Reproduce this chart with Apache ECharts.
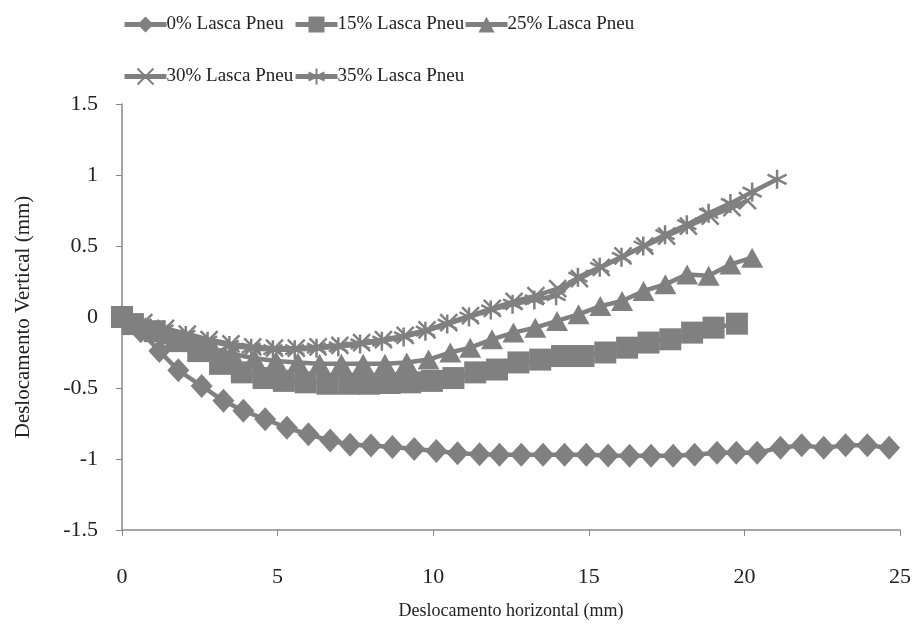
<!DOCTYPE html>
<html>
<head>
<meta charset="utf-8">
<script src="https://cdn.jsdelivr.net/npm/echarts@6/dist/echarts.min.js"></script>
<style>
html,body{margin:0;padding:0;background:#fff;}
#c{width:922px;height:628px;}
</style>
</head>
<body>
<div id="c"></div>
<script>
// ---- data ----
const seriesNames = ['0% Lasca Pneu', '15% Lasca Pneu', '25% Lasca Pneu', '30% Lasca Pneu', '35% Lasca Pneu'];

const x0 = [0, 0.6, 1.2, 1.81, 2.56, 3.26, 3.9, 4.6, 5.3, 5.99, 6.69, 7.33, 8.0, 8.69, 9.39, 10.1, 10.78, 11.49, 12.13, 12.83, 13.53, 14.22, 14.92, 15.62, 16.31, 17.0, 17.71, 18.4, 19.12, 19.74, 20.41, 21.16, 21.84, 22.55, 23.25, 23.95, 24.65];
const y0 = [0, -0.1, -0.24, -0.375, -0.486, -0.59, -0.66, -0.72, -0.78, -0.826, -0.87, -0.9, -0.905, -0.915, -0.93, -0.944, -0.96, -0.967, -0.97, -0.97, -0.97, -0.97, -0.97, -0.975, -0.977, -0.977, -0.977, -0.97, -0.956, -0.956, -0.956, -0.92, -0.904, -0.92, -0.904, -0.904, -0.92];

const x15 = [0, 0.35, 1.05, 1.75, 2.45, 3.15, 3.85, 4.55, 5.2, 5.9, 6.6, 7.3, 7.95, 8.6, 9.26, 9.96, 10.65, 11.35, 12.05, 12.74, 13.44, 14.14, 14.83, 15.53, 16.23, 16.92, 17.62, 18.32, 19.01, 19.76];
const y15 = [0, -0.05, -0.1, -0.17, -0.24, -0.33, -0.39, -0.43, -0.45, -0.46, -0.47, -0.47, -0.47, -0.465, -0.46, -0.45, -0.43, -0.39, -0.37, -0.32, -0.3, -0.275, -0.275, -0.25, -0.216, -0.18, -0.157, -0.11, -0.075, -0.047];

const x25 = [0, 0.75, 1.45, 2.15, 2.85, 3.55, 4.25, 4.95, 5.65, 6.35, 7.05, 7.75, 8.45, 9.15, 9.85, 10.55, 11.19, 11.89, 12.58, 13.28, 13.98, 14.67, 15.37, 16.07, 16.76, 17.46, 18.16, 18.85, 19.55, 20.25];
const y25 = [0, -0.07, -0.12, -0.17, -0.22, -0.26, -0.29, -0.31, -0.32, -0.33, -0.33, -0.33, -0.33, -0.32, -0.3, -0.25, -0.216, -0.157, -0.11, -0.075, -0.028, 0.019, 0.077, 0.113, 0.183, 0.23, 0.3, 0.29, 0.37, 0.418];

const x30 = [0, 0.7, 1.4, 2.1, 2.8, 3.5, 4.2, 4.9, 5.6, 6.3, 7.0, 7.7, 8.4, 9.1, 9.8, 10.5, 11.2, 11.9, 12.6, 13.3, 14.0, 14.7, 15.4, 16.1, 16.8, 17.5, 18.2, 18.9, 19.6, 20.1];
const y30 = [0, -0.04, -0.08, -0.12, -0.16, -0.19, -0.21, -0.22, -0.22, -0.21, -0.2, -0.18, -0.16, -0.13, -0.09, -0.04, 0.01, 0.06, 0.11, 0.15, 0.2, 0.27, 0.35, 0.43, 0.5, 0.57, 0.64, 0.71, 0.77, 0.82];

const x35 = [0, 0.65, 1.35, 2.05, 2.75, 3.45, 4.15, 4.85, 5.55, 6.25, 6.95, 7.65, 8.35, 9.05, 9.75, 10.45, 11.15, 11.85, 12.55, 13.25, 13.95, 14.65, 15.35, 16.05, 16.75, 17.45, 18.15, 18.85, 19.55, 20.25, 21.05];
const y35 = [0, -0.05, -0.09, -0.13, -0.17, -0.2, -0.22, -0.23, -0.23, -0.22, -0.21, -0.19, -0.17, -0.14, -0.1, -0.05, 0, 0.05, 0.09, 0.12, 0.15, 0.28, 0.35, 0.42, 0.5, 0.58, 0.65, 0.73, 0.8, 0.88, 0.97];

const xTicks = [0, 5, 10, 15, 20, 25];
const yTicks = [-1.5, -1, -0.5, 0, 0.5, 1, 1.5];

// ---- chart ----
const zip = (xs, ys) => xs.map((v, i) => [v, ys[i]]);
const gray = '#808080';
const serif = '"Liberation Serif", "DejaVu Serif", serif';

const symX = 'path://M0,0L10,10M10,0L0,10';
const symAst = 'path://M5,0L5,10M0,2.5L10,7.5M0,7.5L10,2.5';

const specs = [
  {x: x0, y: y0, symbol: 'diamond', size: [22, 24], stroke: false},
  {x: x15, y: y15, symbol: 'rect', size: 22, stroke: false},
  {x: x25, y: y25, symbol: 'triangle', size: [22, 20], stroke: false},
  {x: x30, y: y30, symbol: symX, size: 17, stroke: true},
  {x: x35, y: y35, symbol: symAst, size: 19, stroke: true}
];

const series = specs.map((s, i) => ({
  name: seriesNames[i],
  type: 'line',
  data: zip(s.x, s.y),
  symbol: s.symbol,
  symbolSize: s.size,
  showAllSymbol: true,
  smooth: false,
  lineStyle: {color: gray, width: 4.5},
  itemStyle: s.stroke ? {color: 'rgba(0,0,0,0)', borderColor: gray, borderWidth: 2.5} : {color: gray, borderWidth: 0},
  emphasis: {disabled: true},
  animation: false
}));

const legendPos = [
  {left: 117, top: 10},
  {left: 288, top: 10},
  {left: 458, top: 10},
  {left: 117, top: 62},
  {left: 288, top: 62}
];
const legends = seriesNames.map((n, i) => ({
  data: [n],
  left: legendPos[i].left,
  top: legendPos[i].top,
  itemWidth: 42,
  itemHeight: 20,
  itemGap: 0,
  lineStyle: {width: 5},
  textStyle: {fontFamily: serif, fontSize: 19, color: '#222', padding: [0, 0, 0, -5]},
  selectedMode: false
}));

const chart = echarts.init(document.getElementById('c'), null, {renderer: 'canvas'});
chart.setOption({
  backgroundColor: '#fff',
  animation: false,
  legend: legends,
  grid: {left: 122, right: 22, top: 104, bottom: 98, containLabel: false},
  xAxis: {
    type: 'value',
    min: xTicks[0], max: xTicks[xTicks.length - 1], interval: 5,
    name: 'Deslocamento horizontal (mm)',
    nameLocation: 'middle', nameGap: 72,
    nameTextStyle: {fontFamily: serif, fontSize: 18, color: '#222'},
    axisLine: {show: true, onZero: false, lineStyle: {color: '#888', width: 1.5}},
    axisTick: {show: true, inside: false, length: 6, lineStyle: {color: '#888'}},
    axisLabel: {fontFamily: serif, fontSize: 22, color: '#222', margin: 36},
    splitLine: {show: false}
  },
  yAxis: {
    type: 'value',
    min: yTicks[0], max: yTicks[yTicks.length - 1], interval: 0.5,
    name: 'Deslocamento Vertical (mm)',
    nameLocation: 'middle', nameGap: 88,
    nameTextStyle: {fontFamily: serif, fontSize: 21, color: '#222'},
    axisLine: {show: true, onZero: false, lineStyle: {color: '#888', width: 1.5}},
    axisTick: {show: true, inside: false, length: 6, lineStyle: {color: '#888'}},
    axisLabel: {fontFamily: serif, fontSize: 22, color: '#222', margin: 24},
    splitLine: {show: false}
  },
  series: series
});
</script>
</body>
</html>
